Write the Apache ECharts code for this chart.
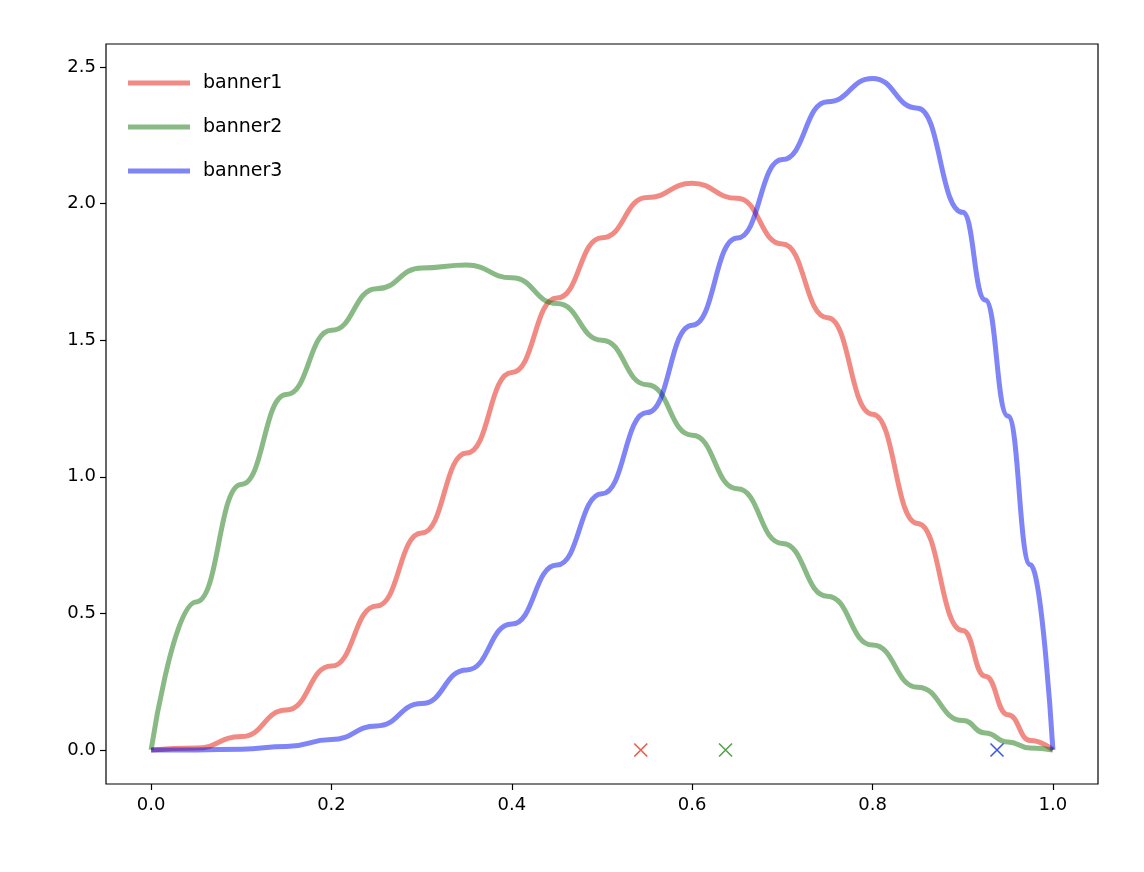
<!DOCTYPE html>
<html>
<head>
<meta charset="utf-8">
<script src="https://cdn.jsdelivr.net/npm/echarts@6/dist/echarts.min.js"></script>
<style>html,body{margin:0;background:#fff}#main{width:1144px;height:872px}</style>
</head>
<body>
<div id="main"></div>
<script>
// values
const xs = [0, 0.05, 0.1, 0.15, 0.2, 0.25, 0.3, 0.35, 0.4, 0.45, 0.5, 0.55, 0.6, 0.65, 0.7, 0.75, 0.8, 0.85, 0.9, 0.925, 0.95, 0.975, 1.0];
const banner1 = [0, 0.007, 0.049, 0.146, 0.307, 0.527, 0.794, 1.087, 1.382, 1.654, 1.875, 2.022, 2.074, 2.019, 1.852, 1.582, 1.229, 0.829, 0.437, 0.270, 0.129, 0.035, 0];
const banner2 = [0, 0.542, 0.972, 1.301, 1.536, 1.688, 1.764, 1.775, 1.728, 1.634, 1.5, 1.337, 1.152, 0.956, 0.756, 0.563, 0.384, 0.230, 0.108, 0.062, 0.029, 0.007, 0];
const banner3 = [0, 0.0002, 0.003, 0.013, 0.038, 0.088, 0.170, 0.293, 0.461, 0.677, 0.938, 1.235, 1.555, 1.874, 2.161, 2.373, 2.458, 2.349, 1.968, 1.647, 1.222, 0.678, 0];
const markX = [0.543, 0.637, 0.938];
const names = ["banner1", "banner2", "banner3"];
const lineColors = ["rgba(230,30,20,0.52)", "rgba(20,115,10,0.5)", "rgba(0,10,240,0.5)"];
const markColors = ["#e8321e", "#2a8a1e", "#1030e0"];
const xTicks = [0, 0.2, 0.4, 0.6, 0.8, 1.0];
const yTicks = [0, 0.5, 1.0, 1.5, 2.0, 2.5];

const chart = echarts.init(document.getElementById("main"));
const data = [banner1, banner2, banner3];
const series = [];
names.forEach(function (n, i) {
  series.push({
    name: n, type: "line", smooth: 0.5, smoothMonotone: "x", symbol: "none",
    lineStyle: { width: 5, color: lineColors[i] }, itemStyle: { color: lineColors[i] },
    data: xs.map(function (x, k) { return [x, data[i][k]]; })
  });
});
markX.forEach(function (x, i) {
  series.push({
    type: "scatter", symbol: "path://M0,0L10,10M10,0L0,10", symbolSize: 13,
    itemStyle: { color: "none", borderColor: markColors[i], borderWidth: 1.6 },
    data: [[x, 0]], z: 5
  });
});

const axisCommon = {
  axisLine: { show: false, onZero: false },
  axisTick: { show: true, inside: false, length: 6, lineStyle: { color: "#000", width: 1.2 } },
  splitLine: { show: false },
  axisLabel: { color: "#000", fontSize: 18, fontFamily: "DejaVu Sans", formatter: function (v) { return v.toFixed(1); } }
};
chart.setOption({
  animation: false,
  grid: { left: 106, right: 46, top: 44, bottom: 88, show: true, borderColor: "#000", borderWidth: 1.2 },
  legend: {
    orient: "vertical", left: 123, top: 68, itemWidth: 62, itemHeight: 5, itemGap: 24, icon: "rect",
    data: names, textStyle: { fontSize: 19, color: "#000", fontFamily: "DejaVu Sans", lineHeight: 20, padding: [0, 0, 0, 8] }
  },
  xAxis: Object.assign({}, axisCommon, {
    type: "value", min: -0.05, max: 1.05,
    axisTick: Object.assign({}, axisCommon.axisTick, { customValues: xTicks }),
    axisLabel: Object.assign({}, axisCommon.axisLabel, { customValues: xTicks, margin: 12 })
  }),
  yAxis: Object.assign({}, axisCommon, {
    type: "value", min: -0.1245, max: 2.584,
    axisTick: Object.assign({}, axisCommon.axisTick, { customValues: yTicks }),
    axisLabel: Object.assign({}, axisCommon.axisLabel, { customValues: yTicks, margin: 10 })
  }),
  series: series
});
</script>
</body>
</html>
